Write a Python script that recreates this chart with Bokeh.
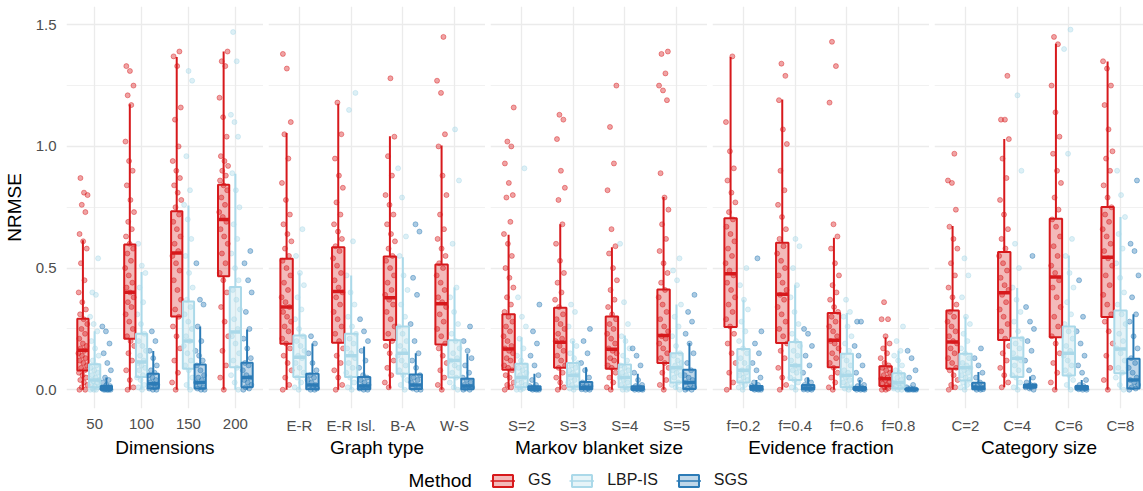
from bokeh.plotting import figure
from bokeh.layouts import row, column
from bokeh.models import (FixedTicker, Legend, LegendItem, Label, PrintfTickFormatter,
                          CustomJSTickFormatter, Grid)
from bokeh.embed import file_html
from bokeh.resources import INLINE

FONT = "Liberation Sans"
METHODS = ["GS", "LBP-IS", "SGS"]
COLORS = ["#D7191C", "#ABD9E9", "#2C7BB6"]

# ---------------- data ----------------
# box stats per category: (lower whisker, q1, median, q3, upper whisker)
dim_title = "Dimensions"
dim_cats = ["50", "100", "150", "200"]
dim_gs_stats = [(0, 0.079, 0.162, 0.292, 0.614), (0, 0.21, 0.401, 0.597, 1.173),
                (0, 0.301, 0.562, 0.734, 1.367), (0, 0.466, 0.70, 0.842, 1.39)]
dim_lbp_stats = [(0, 0.01, 0.04, 0.105, 0.24), (0, 0.052, 0.114, 0.23, 0.484),
                 (0, 0.086, 0.2, 0.363, 0.757), (0, 0.093, 0.237, 0.422, 0.888)]
dim_sgs_stats = [(0, 0, 0.003, 0.015, 0.05), (0, 0.005, 0.025, 0.066, 0.159),
                 (0, 0.005, 0.03, 0.104, 0.26), (0, 0.01, 0.05, 0.111, 0.248)]
dim_gs_pts = [
    [0.0, 0.0, 0.01, 0.02, 0.03, 0.04, 0.05, 0.06, 0.07, 0.08, 0.09, 0.1, 0.11, 0.12, 0.13, 0.14, 0.15, 0.16, 0.17, 0.18, 0.19, 0.21, 0.23, 0.25, 0.27, 0.29, 0.31, 0.33, 0.36, 0.4, 0.45, 0.52, 0.58, 0.61, 0.64, 0.73, 0.76, 0.80, 0.81, 0.87],
    [0.0, 0.01, 0.04, 0.08, 0.12, 0.15, 0.18, 0.2, 0.22, 0.25, 0.28, 0.31, 0.34, 0.36, 0.38, 0.4, 0.42, 0.44, 0.47, 0.5, 0.53, 0.56, 0.58, 0.6, 0.63, 0.66, 0.69, 0.73, 0.78, 0.84, 0.9, 0.94, 1.02, 1.17, 1.21, 1.25, 1.31, 1.33],
    [0.0, 0.03, 0.07, 0.12, 0.17, 0.22, 0.26, 0.3, 0.33, 0.37, 0.41, 0.45, 0.49, 0.52, 0.55, 0.57, 0.6, 0.63, 0.66, 0.69, 0.72, 0.75, 0.78, 0.81, 0.84, 0.87, 0.9, 0.94, 1.0, 1.11, 1.16, 1.33, 1.37, 1.39],
    [0.0, 0.05, 0.1, 0.16, 0.22, 0.28, 0.34, 0.4, 0.45, 0.48, 0.52, 0.56, 0.6, 0.63, 0.66, 0.69, 0.71, 0.73, 0.76, 0.79, 0.82, 0.84, 0.86, 0.88, 0.9, 0.92, 0.94, 0.96, 1.04, 1.12, 1.2, 1.33, 1.35, 1.39]]
dim_lbp_pts = [
    [0, 0, 0, 0.005, 0.01, 0.015, 0.02, 0.03, 0.035, 0.04, 0.05, 0.06, 0.07, 0.08, 0.09, 0.1, 0.12, 0.14, 0.17, 0.2, 0.24, 0.27, 0.30, 0.39, 0.40, 0.54],
    [0, 0.01, 0.02, 0.04, 0.05, 0.06, 0.08, 0.09, 0.1, 0.11, 0.12, 0.14, 0.16, 0.18, 0.2, 0.23, 0.27, 0.31, 0.36, 0.42, 0.48, 0.51, 0.6],
    [0, 0.02, 0.05, 0.08, 0.1, 0.12, 0.15, 0.18, 0.2, 0.22, 0.25, 0.28, 0.31, 0.34, 0.37, 0.42, 0.48, 0.55, 0.62, 0.7, 0.76, 0.82, 0.96, 1.27, 1.31],
    [0, 0.03, 0.06, 0.09, 0.12, 0.15, 0.19, 0.22, 0.25, 0.29, 0.33, 0.37, 0.41, 0.45, 0.5, 0.56, 0.62, 0.68, 0.75, 0.82, 0.89, 1.04, 1.1, 1.13, 1.35, 1.47]]
dim_sgs_pts = [
    [0, 0, 0, 0, 0.001, 0.002, 0.004, 0.006, 0.008, 0.01, 0.015, 0.02, 0.03, 0.04, 0.05, 0.08, 0.11, 0.15, 0.19, 0.24, 0.26],
    [0, 0, 0.005, 0.01, 0.015, 0.02, 0.025, 0.03, 0.04, 0.05, 0.06, 0.07, 0.08, 0.1, 0.13, 0.16, 0.2, 0.24],
    [0, 0, 0.005, 0.01, 0.02, 0.03, 0.04, 0.05, 0.06, 0.08, 0.1, 0.12, 0.14, 0.16, 0.2, 0.26, 0.35, 0.37, 0.52],
    [0, 0.005, 0.01, 0.02, 0.03, 0.04, 0.05, 0.06, 0.08, 0.1, 0.11, 0.13, 0.17, 0.21, 0.25, 0.32, 0.4, 0.45, 0.52, 0.57]]

gt_title = "Graph type"
gt_cats = ["E-R", "E-R Isl.", "B-A", "W-S"]
gt_gs_stats = [(0, 0.189, 0.34, 0.538, 1.055), (0, 0.193, 0.404, 0.586, 1.175),
               (0.005, 0.205, 0.378, 0.548, 1.042), (0, 0.186, 0.353, 0.515, 1.004)]
gt_lbp_stats = [(0, 0.052, 0.134, 0.223, 0.48), (0, 0.052, 0.14, 0.23, 0.47),
                (0, 0.066, 0.15, 0.26, 0.545), (0, 0.05, 0.12, 0.203, 0.42)]
gt_sgs_stats = [(0, 0.002, 0.02, 0.066, 0.19), (0, 0.002, 0.015, 0.052, 0.178),
                (0, 0.003, 0.02, 0.063, 0.15), (0, 0.002, 0.015, 0.045, 0.148)]
gt_gs_pts = [
    [0.0, 0.02, 0.05, 0.08, 0.11, 0.14, 0.17, 0.19, 0.21, 0.24, 0.26, 0.28, 0.3, 0.32, 0.34, 0.36, 0.38, 0.41, 0.44, 0.47, 0.5, 0.53, 0.55, 0.58, 0.61, 0.64, 0.68, 0.72, 0.78, 0.85, 0.95, 1.05, 1.10, 1.32, 1.38],
    [0.0, 0.02, 0.05, 0.08, 0.11, 0.14, 0.17, 0.2, 0.23, 0.26, 0.29, 0.32, 0.35, 0.38, 0.4, 0.42, 0.45, 0.48, 0.51, 0.54, 0.57, 0.59, 0.62, 0.65, 0.68, 0.72, 0.77, 0.83, 0.88, 0.95, 1.05, 1.18],
    [0.01, 0.03, 0.06, 0.09, 0.12, 0.15, 0.18, 0.2, 0.23, 0.26, 0.29, 0.32, 0.35, 0.37, 0.39, 0.41, 0.44, 0.47, 0.5, 0.53, 0.55, 0.58, 0.61, 0.64, 0.68, 0.72, 0.76, 0.8, 0.88, 0.96, 1.04, 1.28],
    [0.0, 0.02, 0.05, 0.08, 0.11, 0.14, 0.17, 0.19, 0.22, 0.25, 0.28, 0.31, 0.34, 0.36, 0.38, 0.41, 0.44, 0.47, 0.5, 0.52, 0.55, 0.58, 0.62, 0.66, 0.72, 0.8, 0.88, 1.0, 1.05, 1.22, 1.27, 1.45]]
gt_lbp_pts = [
    [0, 0.01, 0.03, 0.05, 0.07, 0.09, 0.11, 0.13, 0.14, 0.16, 0.18, 0.2, 0.22, 0.25, 0.29, 0.33, 0.38, 0.43, 0.48, 0.55, 0.66],
    [0, 0.01, 0.03, 0.05, 0.07, 0.09, 0.11, 0.13, 0.15, 0.17, 0.19, 0.21, 0.23, 0.26, 0.3, 0.35, 0.4, 0.47, 0.61, 1.15, 1.22],
    [0, 0.02, 0.04, 0.06, 0.08, 0.1, 0.12, 0.14, 0.16, 0.18, 0.2, 0.23, 0.26, 0.3, 0.35, 0.41, 0.47, 0.55, 0.63, 0.79, 0.91],
    [0, 0.01, 0.03, 0.05, 0.07, 0.09, 0.1, 0.12, 0.13, 0.15, 0.17, 0.2, 0.23, 0.27, 0.32, 0.38, 0.42, 0.6, 0.86, 1.07]]
gt_sgs_pts = [
    [0, 0, 0.005, 0.01, 0.015, 0.02, 0.03, 0.04, 0.05, 0.06, 0.08, 0.11, 0.15, 0.19, 0.22],
    [0, 0, 0.005, 0.01, 0.015, 0.02, 0.03, 0.04, 0.05, 0.06, 0.09, 0.12, 0.16, 0.2, 0.24, 0.29],
    [0, 0, 0.005, 0.01, 0.02, 0.03, 0.04, 0.05, 0.06, 0.09, 0.12, 0.15, 0.2, 0.27, 0.39, 0.46, 0.65, 0.68],
    [0, 0, 0.005, 0.01, 0.015, 0.02, 0.03, 0.04, 0.05, 0.07, 0.1, 0.13, 0.16, 0.2, 0.26]]

mb_title = "Markov blanket size"
mb_cats = ["S=2", "S=3", "S=4", "S=5"]
mb_gs_stats = [(0, 0.082, 0.168, 0.31, 0.637), (0, 0.09, 0.195, 0.337, 0.68),
               (0, 0.086, 0.166, 0.301, 0.586), (0, 0.11, 0.223, 0.412, 0.792)]
mb_lbp_stats = [(0, 0.01, 0.05, 0.107, 0.216), (0, 0.012, 0.06, 0.11, 0.2),
                (0, 0.01, 0.05, 0.104, 0.223), (0, 0.03, 0.09, 0.15, 0.35)]
mb_sgs_stats = [(0, 0, 0.003, 0.014, 0.066), (0, 0.002, 0.01, 0.032, 0.093),
                (0, 0, 0.003, 0.014, 0.066), (0, 0.003, 0.03, 0.082, 0.192)]
mb_gs_pts = [
    [0.0, 0.01, 0.02, 0.03, 0.05, 0.06, 0.08, 0.09, 0.1, 0.12, 0.13, 0.15, 0.16, 0.17, 0.18, 0.2, 0.22, 0.24, 0.26, 0.28, 0.3, 0.32, 0.35, 0.38, 0.42, 0.46, 0.5, 0.55, 0.6, 0.64, 0.69, 0.79, 0.8, 0.85, 0.93, 1.0, 1.02, 1.16],
    [0.0, 0.01, 0.03, 0.05, 0.07, 0.09, 0.1, 0.12, 0.14, 0.16, 0.18, 0.2, 0.21, 0.23, 0.25, 0.27, 0.29, 0.31, 0.34, 0.37, 0.4, 0.44, 0.48, 0.53, 0.6, 0.68, 0.78, 0.83, 0.9, 1.03, 1.11, 1.13],
    [0.0, 0.01, 0.03, 0.05, 0.07, 0.09, 0.1, 0.12, 0.13, 0.15, 0.16, 0.17, 0.19, 0.21, 0.23, 0.25, 0.27, 0.29, 0.31, 0.34, 0.37, 0.41, 0.45, 0.5, 0.56, 0.59, 0.66, 0.82, 0.93, 1.08, 1.25],
    [0.0, 0.02, 0.04, 0.07, 0.09, 0.11, 0.13, 0.15, 0.17, 0.19, 0.21, 0.22, 0.24, 0.26, 0.29, 0.32, 0.35, 0.38, 0.41, 0.44, 0.48, 0.52, 0.57, 0.62, 0.68, 0.74, 0.79, 0.89, 1.19, 1.23, 1.25, 1.3, 1.38, 1.39]]
mb_lbp_pts = [
    [0, 0, 0.005, 0.01, 0.02, 0.03, 0.04, 0.05, 0.06, 0.07, 0.08, 0.09, 0.1, 0.12, 0.14, 0.17, 0.21, 0.26, 0.3, 0.38, 0.91],
    [0, 0.005, 0.01, 0.02, 0.03, 0.04, 0.05, 0.06, 0.07, 0.08, 0.09, 0.1, 0.11, 0.13, 0.15, 0.18, 0.2, 0.26, 0.32, 0.35],
    [0, 0, 0.005, 0.01, 0.02, 0.03, 0.04, 0.05, 0.06, 0.07, 0.08, 0.09, 0.1, 0.12, 0.14, 0.17, 0.2, 0.22, 0.27, 0.36, 0.6],
    [0, 0.01, 0.02, 0.03, 0.05, 0.06, 0.07, 0.08, 0.09, 0.1, 0.11, 0.12, 0.14, 0.15, 0.18, 0.22, 0.26, 0.3, 0.35, 0.45, 0.49, 0.54]]
mb_sgs_pts = [
    [0, 0, 0, 0.002, 0.004, 0.006, 0.01, 0.015, 0.02, 0.04, 0.06, 0.1, 0.14, 0.19, 0.24, 0.35],
    [0, 0, 0.002, 0.005, 0.01, 0.015, 0.02, 0.03, 0.05, 0.08, 0.11, 0.15, 0.2, 0.25],
    [0, 0, 0, 0.002, 0.004, 0.006, 0.01, 0.015, 0.02, 0.04, 0.07, 0.1, 0.14, 0.17],
    [0, 0, 0.005, 0.01, 0.02, 0.03, 0.04, 0.05, 0.06, 0.08, 0.11, 0.15, 0.19, 0.23, 0.28, 0.32, 0.39]]

ef_title = "Evidence fraction"
ef_cats = ["f=0.2", "f=0.4", "f=0.6", "f=0.8"]
ef_gs_stats = [(0, 0.258, 0.477, 0.705, 1.367), (0, 0.192, 0.392, 0.604, 1.193),
               (0, 0.093, 0.203, 0.315, 0.625), (0, 0.015, 0.045, 0.097, 0.216)]
ef_lbp_stats = [(0, 0.03, 0.08, 0.168, 0.37), (0, 0.04, 0.1, 0.196, 0.43),
                (0, 0.01, 0.06, 0.148, 0.315), (0, 0.005, 0.03, 0.068, 0.16)]
ef_sgs_stats = [(0, 0, 0.004, 0.015, 0.04), (0, 0.001, 0.006, 0.02, 0.05),
                (0, 0, 0.003, 0.011, 0.04), (0, 0, 0.001, 0.004, 0.01)]
ef_gs_pts = [
    [0.0, 0.03, 0.07, 0.11, 0.15, 0.19, 0.23, 0.26, 0.29, 0.32, 0.35, 0.38, 0.41, 0.44, 0.47, 0.49, 0.52, 0.55, 0.58, 0.61, 0.64, 0.67, 0.7, 0.73, 0.77, 0.81, 0.86, 0.91, 0.98, 1.1, 1.37],
    [0.0, 0.02, 0.05, 0.09, 0.13, 0.16, 0.19, 0.22, 0.25, 0.28, 0.31, 0.34, 0.37, 0.39, 0.41, 0.44, 0.47, 0.5, 0.53, 0.56, 0.59, 0.62, 0.66, 0.71, 0.76, 0.82, 0.9, 1.01, 1.07, 1.19, 1.29, 1.34],
    [0.0, 0.01, 0.03, 0.05, 0.07, 0.09, 0.11, 0.13, 0.15, 0.17, 0.19, 0.2, 0.22, 0.24, 0.26, 0.28, 0.3, 0.32, 0.34, 0.37, 0.4, 0.43, 0.47, 0.52, 0.58, 0.63, 0.68, 1.18, 1.33, 1.43],
    [0, 0, 0.005, 0.01, 0.015, 0.02, 0.025, 0.03, 0.04, 0.045, 0.05, 0.06, 0.07, 0.08, 0.09, 0.1, 0.11, 0.13, 0.15, 0.17, 0.19, 0.22, 0.29, 0.29, 0.36]]
ef_lbp_pts = [
    [0, 0.01, 0.02, 0.03, 0.04, 0.05, 0.06, 0.07, 0.08, 0.09, 0.11, 0.13, 0.15, 0.17, 0.2, 0.24, 0.28, 0.33, 0.37, 0.43, 0.5],
    [0, 0.01, 0.03, 0.04, 0.05, 0.07, 0.08, 0.09, 0.1, 0.12, 0.14, 0.16, 0.18, 0.2, 0.23, 0.27, 0.32, 0.38, 0.43, 0.5, 0.59, 0.62],
    [0, 0.005, 0.01, 0.02, 0.03, 0.04, 0.05, 0.06, 0.07, 0.08, 0.1, 0.12, 0.14, 0.16, 0.19, 0.22, 0.26, 0.3, 0.32, 0.37],
    [0, 0, 0.005, 0.01, 0.015, 0.02, 0.025, 0.03, 0.04, 0.05, 0.06, 0.07, 0.08, 0.1, 0.12, 0.14, 0.16, 0.2, 0.26]]
ef_sgs_pts = [
    [0, 0, 0, 0.002, 0.004, 0.007, 0.01, 0.015, 0.02, 0.03, 0.05, 0.08, 0.11, 0.15, 0.19, 0.24, 0.54],
    [0, 0, 0.001, 0.004, 0.007, 0.01, 0.015, 0.02, 0.03, 0.04, 0.07, 0.1, 0.14, 0.18, 0.23, 0.25],
    [0, 0, 0, 0.002, 0.004, 0.006, 0.01, 0.015, 0.02, 0.04, 0.07, 0.1, 0.14, 0.18, 0.28, 0.28],
    [0, 0, 0, 0, 0.001, 0.002, 0.003, 0.006, 0.01, 0.02, 0.05, 0.08, 0.13, 0.16]]

cs_title = "Category size"
cs_cats = ["C=2", "C=4", "C=6", "C=8"]
cs_gs_stats = [(0, 0.086, 0.196, 0.326, 0.673), (0.01, 0.205, 0.399, 0.566, 1.03),
               (0, 0.216, 0.463, 0.703, 1.422), (0, 0.299, 0.545, 0.751, 1.349)]
cs_lbp_stats = [(0, 0.038, 0.09, 0.148, 0.3), (0, 0.052, 0.13, 0.214, 0.418),
                (0, 0.059, 0.15, 0.26, 0.552), (0, 0.068, 0.168, 0.326, 0.71)]
cs_sgs_stats = [(0, 0.002, 0.01, 0.029, 0.073), (0, 0.008, 0.015, 0.022, 0.055),
                (0, 0.001, 0.005, 0.015, 0.04), (0, 0.005, 0.04, 0.127, 0.31)]
cs_gs_pts = [
    [0.0, 0.01, 0.02, 0.04, 0.06, 0.08, 0.09, 0.11, 0.13, 0.15, 0.17, 0.19, 0.2, 0.22, 0.24, 0.26, 0.28, 0.3, 0.32, 0.35, 0.38, 0.42, 0.47, 0.52, 0.58, 0.62, 0.67, 0.74, 0.85, 0.86, 0.97],
    [0.01, 0.03, 0.06, 0.09, 0.12, 0.15, 0.18, 0.21, 0.24, 0.27, 0.3, 0.33, 0.36, 0.39, 0.41, 0.43, 0.46, 0.49, 0.52, 0.55, 0.58, 0.62, 0.66, 0.72, 0.78, 0.87, 0.95, 1.03, 1.11, 1.11, 1.29],
    [0.0, 0.03, 0.07, 0.11, 0.15, 0.19, 0.22, 0.26, 0.3, 0.34, 0.38, 0.42, 0.45, 0.48, 0.51, 0.55, 0.59, 0.63, 0.67, 0.7, 0.74, 0.79, 0.85, 0.9, 0.97, 1.04, 1.14, 1.25, 1.42, 1.45],
    [0.0, 0.04, 0.09, 0.14, 0.19, 0.24, 0.28, 0.31, 0.35, 0.39, 0.43, 0.47, 0.51, 0.54, 0.57, 0.6, 0.63, 0.66, 0.69, 0.72, 0.75, 0.79, 0.84, 0.9, 0.95, 0.98, 1.07, 1.17, 1.25, 1.32, 1.35]]
cs_lbp_pts = [
    [0, 0.01, 0.02, 0.03, 0.04, 0.05, 0.06, 0.07, 0.08, 0.09, 0.1, 0.11, 0.13, 0.15, 0.17, 0.2, 0.23, 0.27, 0.3, 0.38, 0.47, 0.54],
    [0, 0.01, 0.03, 0.05, 0.06, 0.08, 0.1, 0.12, 0.13, 0.15, 0.17, 0.19, 0.21, 0.24, 0.28, 0.32, 0.37, 0.42, 0.5, 0.6, 0.9, 1.21],
    [0, 0.02, 0.04, 0.06, 0.08, 0.1, 0.12, 0.14, 0.16, 0.18, 0.21, 0.24, 0.27, 0.31, 0.36, 0.42, 0.48, 0.55, 0.62, 0.97, 1.4, 1.48],
    [0, 0.02, 0.05, 0.07, 0.09, 0.12, 0.15, 0.17, 0.2, 0.23, 0.27, 0.31, 0.35, 0.4, 0.46, 0.52, 0.58, 0.64, 0.71, 0.8, 0.9]]
cs_sgs_pts = [
    [0, 0, 0.002, 0.005, 0.008, 0.01, 0.015, 0.02, 0.03, 0.05, 0.07, 0.1, 0.13, 0.17],
    [0, 0.005, 0.01, 0.012, 0.015, 0.018, 0.02, 0.03, 0.05, 0.08, 0.12, 0.16, 0.2, 0.25, 0.28, 0.34, 0.55],
    [0, 0, 0.002, 0.005, 0.008, 0.01, 0.015, 0.02, 0.04, 0.07, 0.1, 0.14, 0.19, 0.24, 0.3, 0.45],
    [0, 0.005, 0.01, 0.02, 0.03, 0.04, 0.05, 0.07, 0.09, 0.11, 0.13, 0.17, 0.22, 0.28, 0.31, 0.38, 0.47, 0.57, 0.6, 0.86]]

y_ticks = [0, 0.5, 1.0, 1.5]
y_minor = [0.25, 0.75, 1.25]
y_title = "NRMSE"
legend_title = "Method"

FACETS = [
    (dim_title, dim_cats, [(dim_gs_stats, dim_gs_pts), (dim_lbp_stats, dim_lbp_pts), (dim_sgs_stats, dim_sgs_pts)]),
    (gt_title, gt_cats, [(gt_gs_stats, gt_gs_pts), (gt_lbp_stats, gt_lbp_pts), (gt_sgs_stats, gt_sgs_pts)]),
    (mb_title, mb_cats, [(mb_gs_stats, mb_gs_pts), (mb_lbp_stats, mb_lbp_pts), (mb_sgs_stats, mb_sgs_pts)]),
    (ef_title, ef_cats, [(ef_gs_stats, ef_gs_pts), (ef_lbp_stats, ef_lbp_pts), (ef_sgs_stats, ef_sgs_pts)]),
    (cs_title, cs_cats, [(cs_gs_stats, cs_gs_pts), (cs_lbp_stats, cs_lbp_pts), (cs_sgs_stats, cs_sgs_pts)]),
]

# ---------------- layout / style ----------------
OFFS = [-0.25, 0.0, 0.25]
BOXW = 0.24
JW = 0.10
Y_RANGE = (-0.077, 1.575)
FRAME_H = 402
TOP_B = 6
BOT_B = 59
FIG_H = TOP_B + FRAME_H + BOT_B
GRID = "#EBEBEB"
TICK_COL = "#4D4D4D"


def style_axis(ax, label, size_lbl, lbl_standoff, tick_standoff, tick_size):
    ax.axis_label = label
    ax.axis_label_text_font = FONT
    ax.axis_label_text_font_style = "normal"
    ax.axis_label_text_font_size = size_lbl
    ax.axis_label_text_color = "black"
    ax.axis_label_standoff = lbl_standoff
    ax.major_label_text_font = FONT
    ax.major_label_text_font_size = tick_size
    ax.major_label_text_color = TICK_COL
    ax.major_label_standoff = tick_standoff
    ax.axis_line_color = None
    ax.major_tick_line_color = None
    ax.minor_tick_line_color = None
    ax.major_tick_out = 0
    ax.major_tick_in = 0
    ax.minor_tick_out = 0
    ax.minor_tick_in = 0


def make_panel(title, cats, groups, fig_w, x_end, tick_so, lbl_so):
    p = figure(width=fig_w, height=FIG_H, x_range=(0.4, x_end), y_range=Y_RANGE,
               output_backend="svg", toolbar_location=None, min_border=0,
               min_border_left=5, min_border_right=0, min_border_top=TOP_B,
               min_border_bottom=BOT_B, outline_line_color=None,
               y_axis_location=None)
    p.background_fill_color = "white"
    p.border_fill_color = "white"

    if len(p.ygrid) == 0:
        p.add_layout(Grid(dimension=1), "center")
    p.ygrid.ticker = FixedTicker(ticks=y_ticks, minor_ticks=y_minor)
    p.ygrid.grid_line_color = GRID
    p.ygrid.grid_line_width = 1.3
    p.ygrid.minor_grid_line_color = GRID
    p.ygrid.minor_grid_line_width = 0.7
    p.xgrid.ticker = FixedTicker(ticks=[1, 2, 3, 4])
    p.xgrid.grid_line_color = GRID
    p.xgrid.grid_line_width = 1.3

    xa = p.xaxis[0]
    xa.ticker = FixedTicker(ticks=[1, 2, 3, 4])
    xa.formatter = CustomJSTickFormatter(args=dict(labels=cats), code="""
        const i = Math.round(tick) - 1;
        return (i >= 0 && i < labels.length) ? labels[i] : '';""")
    style_axis(xa, title, "19px", lbl_so, tick_so, "15px")

    # jittered points first, boxes on top
    for mi, (stats, pts) in enumerate(groups):
        c = COLORS[mi]
        xs, ys = [], []
        for ci, vals in enumerate(pts):
            base = ci + 1 + OFFS[mi]
            for k, v in enumerate(vals):
                frac = (k * 0.6180339 + 0.13 * (ci + 1) + 0.29 * mi) % 1.0
                xs.append(base + JW * (2 * frac - 1))
                ys.append(v)
        p.scatter(x=xs, y=ys, size=5, fill_color=c, fill_alpha=0.4,
                  line_color=c, line_alpha=0.55, line_width=0.8)

    for mi, (stats, pts) in enumerate(groups):
        c = COLORS[mi]
        xs = [ci + 1 + OFFS[mi] for ci in range(len(stats))]
        lo = [s[0] for s in stats]
        q1 = [s[1] for s in stats]
        md = [s[2] for s in stats]
        q3 = [s[3] for s in stats]
        hi = [s[4] for s in stats]
        p.segment(x0=xs, y0=q3, x1=xs, y1=hi, line_color=c, line_width=2)
        p.segment(x0=xs, y0=lo, x1=xs, y1=q1, line_color=c, line_width=2)
        p.vbar(x=xs, width=BOXW, bottom=q1, top=q3, fill_color=c, fill_alpha=0.3,
               line_color=c, line_width=2)
        p.segment(x0=[x - BOXW / 2 for x in xs], y0=md, x1=[x + BOXW / 2 for x in xs], y1=md,
                  line_color=c, line_width=3.5)
    return p


# narrow figure that only carries the shared y axis (tiny empty frame at its right edge)
yax = figure(width=61, height=FIG_H, x_range=(0, 1), y_range=Y_RANGE,
             output_backend="svg", toolbar_location=None, min_border=0,
             min_border_left=60, min_border_right=0, min_border_top=TOP_B,
             min_border_bottom=BOT_B, outline_line_color=None,
             x_axis_location=None, y_axis_location="left")
yax.grid.visible = False
yaxis = yax.yaxis[0]
yaxis.ticker = FixedTicker(ticks=y_ticks)
yaxis.formatter = PrintfTickFormatter(format="%.1f")
style_axis(yaxis, y_title, "19px", 8, 5, "15px")

# (figure width incl. 5px gap, x range end, tick label standoff, title standoff)
specs = [(202, 4.6, 10, 5), (222, 4.6, 8, 0), (222, 4.6, 8, 0), (222, 4.6, 8, 0), (214, 4.445, 8, 0)]
panels = [yax]
for (title, cats, groups), (fw, xe, tso, lso) in zip(FACETS, specs):
    panels.append(make_panel(title, cats, groups, fw, xe, tso, lso))

# ---------------- legend strip ----------------
LEG_H = 491 - FIG_H
lf = figure(width=1143, height=LEG_H, x_range=(0, 1), y_range=(0, 1), output_backend="svg",
            toolbar_location=None, min_border=0, outline_line_color=None,
            x_axis_location=None, y_axis_location=None)
lf.grid.visible = False
items = []
for name, c in zip(METHODS, COLORS):
    rq = lf.quad(left=[5], right=[6], bottom=[5], top=[6], fill_color=c, fill_alpha=0.3,
                 line_color=c, line_width=2)
    rs = lf.segment(x0=[5], y0=[5], x1=[6], y1=[5], line_color=c, line_width=1.5)
    items.append(LegendItem(label=name, renderers=[rq, rs]))
leg = Legend(items=items, location=(490, 1), orientation="horizontal",
             glyph_width=25, glyph_height=15, label_standoff=13, spacing=18,
             padding=0, margin=0, border_line_color=None, background_fill_alpha=0,
             label_text_font=FONT, label_text_font_size="16px", label_text_color="#1A1A1A",
             label_height=20)
lf.add_layout(leg)
lf.add_layout(Label(x=408, y=11, x_units="screen", y_units="screen", text=legend_title,
                    text_baseline="middle", text_font=FONT, text_font_size="19px",
                    text_color="black"))

layout = column(row(*panels, spacing=0), lf, spacing=0)
open("out.html", "w").write(file_html(layout, INLINE))
